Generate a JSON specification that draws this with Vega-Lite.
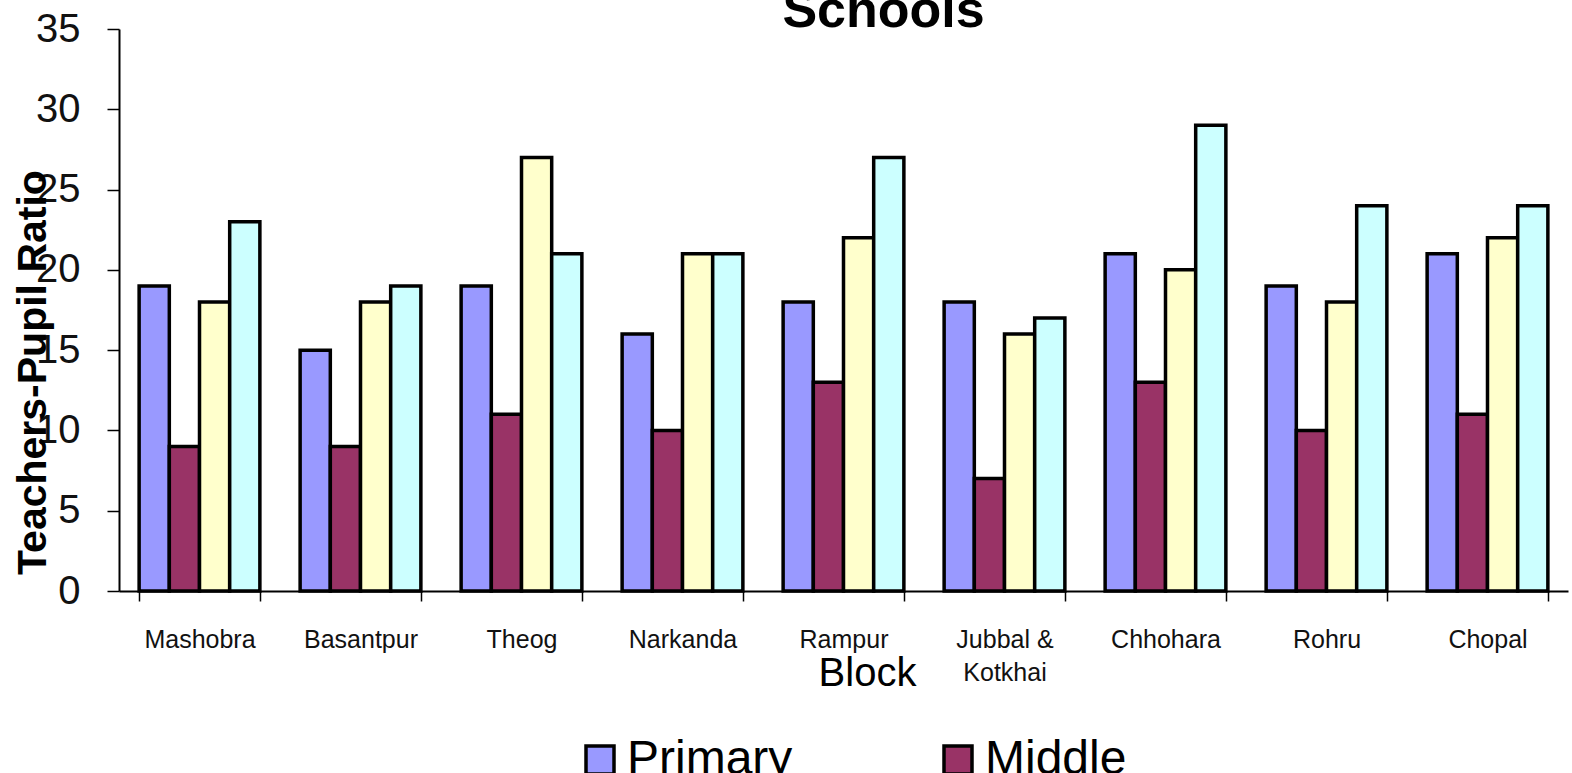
{
  "$schema": "https://vega.github.io/schema/vega-lite/v6.json",
  "width": 1449,
  "height": 562,
  "autosize": {"type": "none"},
  "padding": {"left": 119, "top": 29, "right": 4, "bottom": 182},
  "background": "white",
  "title": {"text": "Schools", "fontSize": 52, "fontWeight": "bold", "font": "Liberation Sans", "color": "black", "frame": "group", "anchor": "middle", "dx": 40, "offset": -70, "baseline": "alphabetic"},
  "data": {"values": [
    {"block": "Mashobra", "level": "Primary", "ratio": 19},
    {"block": "Mashobra", "level": "Middle", "ratio": 9},
    {"block": "Mashobra", "level": "High", "ratio": 18},
    {"block": "Mashobra", "level": "Senior Secondary", "ratio": 23},
    {"block": "Basantpur", "level": "Primary", "ratio": 15},
    {"block": "Basantpur", "level": "Middle", "ratio": 9},
    {"block": "Basantpur", "level": "High", "ratio": 18},
    {"block": "Basantpur", "level": "Senior Secondary", "ratio": 19},
    {"block": "Theog", "level": "Primary", "ratio": 19},
    {"block": "Theog", "level": "Middle", "ratio": 11},
    {"block": "Theog", "level": "High", "ratio": 27},
    {"block": "Theog", "level": "Senior Secondary", "ratio": 21},
    {"block": "Narkanda", "level": "Primary", "ratio": 16},
    {"block": "Narkanda", "level": "Middle", "ratio": 10},
    {"block": "Narkanda", "level": "High", "ratio": 21},
    {"block": "Narkanda", "level": "Senior Secondary", "ratio": 21},
    {"block": "Rampur", "level": "Primary", "ratio": 18},
    {"block": "Rampur", "level": "Middle", "ratio": 13},
    {"block": "Rampur", "level": "High", "ratio": 22},
    {"block": "Rampur", "level": "Senior Secondary", "ratio": 27},
    {"block": "Jubbal & Kotkhai", "level": "Primary", "ratio": 18},
    {"block": "Jubbal & Kotkhai", "level": "Middle", "ratio": 7},
    {"block": "Jubbal & Kotkhai", "level": "High", "ratio": 16},
    {"block": "Jubbal & Kotkhai", "level": "Senior Secondary", "ratio": 17},
    {"block": "Chhohara", "level": "Primary", "ratio": 21},
    {"block": "Chhohara", "level": "Middle", "ratio": 13},
    {"block": "Chhohara", "level": "High", "ratio": 20},
    {"block": "Chhohara", "level": "Senior Secondary", "ratio": 29},
    {"block": "Rohru", "level": "Primary", "ratio": 19},
    {"block": "Rohru", "level": "Middle", "ratio": 10},
    {"block": "Rohru", "level": "High", "ratio": 18},
    {"block": "Rohru", "level": "Senior Secondary", "ratio": 24},
    {"block": "Chopal", "level": "Primary", "ratio": 21},
    {"block": "Chopal", "level": "Middle", "ratio": 11},
    {"block": "Chopal", "level": "High", "ratio": 22},
    {"block": "Chopal", "level": "Senior Secondary", "ratio": 24}
  ]},
  "mark": {"type": "bar", "stroke": "black", "strokeWidth": 3.5},
  "encoding": {
    "x": {
      "field": "block", "type": "nominal",
      "sort": ["Mashobra", "Basantpur", "Theog", "Narkanda", "Rampur", "Jubbal & Kotkhai", "Chhohara", "Rohru", "Chopal"],
      "scale": {"paddingInner": 0.25, "paddingOuter": 0.125},
      "axis": {
        "title": "Block", "titleFontSize": 40, "titleFontWeight": "normal", "titleColor": "black",
        "titleX": 748, "titleY": 94, "titleAlign": "center", "titleBaseline": "alphabetic",
        "labelAngle": 0, "labelFontSize": 25, "labelColor": "#111", "labelPadding": 26,
        "labelExpr": "datum.label == 'Jubbal & Kotkhai' ? ['Jubbal &', 'Kotkhai'] : datum.label",
        "labelLineHeight": 33,
        "tickBand": "extent", "tickSize": 10, "tickColor": "black", "tickWidth": 1.5,
        "domainColor": "black", "domainWidth": 2, "grid": false
      }
    },
    "xOffset": {"field": "level", "type": "nominal", "sort": ["Primary", "Middle", "High", "Senior Secondary"]},
    "y": {
      "field": "ratio", "type": "quantitative",
      "scale": {"domain": [0, 35], "nice": false},
      "axis": {
        "title": "Teachers-Pupil Ratio", "titleFontSize": 41, "titleFontWeight": "bold", "titleColor": "black",
        "titleX": -74, "titleY": 343, "titleAlign": "center", "titleBaseline": "alphabetic", "titleAngle": -90,
        "values": [0, 5, 10, 15, 20, 25, 30, 35],
        "labelFontSize": 40, "labelColor": "#111", "labelPadding": 27,
        "tickSize": 12, "tickColor": "black", "tickWidth": 1.5,
        "domainColor": "black", "domainWidth": 2, "grid": false
      }
    },
    "color": {
      "field": "level", "type": "nominal",
      "scale": {"domain": ["Primary", "Middle", "High", "Senior Secondary"], "range": ["#9999FF", "#993366", "#FFFFCC", "#CCFFFF"]},
      "legend": {
        "orient": "none", "legendX": 457, "legendY": 707, "direction": "horizontal", "title": null,
        "values": ["Primary", "Middle"],
        "labelFontSize": 48, "labelColor": "black", "labelLimit": 400,
        "symbolType": "square", "symbolSize": 784, "symbolStrokeColor": "black", "symbolStrokeWidth": 3.5,
        "symbolOpacity": 1,
        "labelOffset": 3, "columnPadding": 141, "padding": 0
      }
    }
  },
  "config": {"view": {"stroke": null}, "font": "Liberation Sans"}
}
